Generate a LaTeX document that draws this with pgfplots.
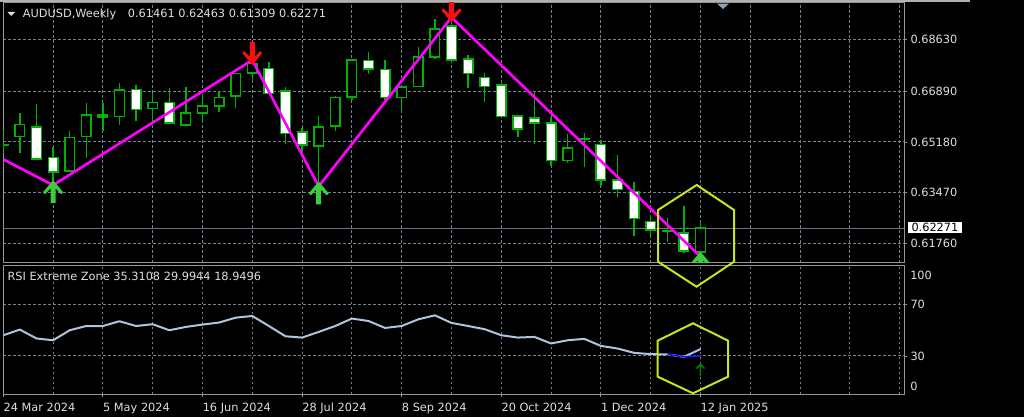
\documentclass[border=0pt]{standalone}
\usepackage{pgfplots}
\pgfplotsset{compat=1.18}
\usepackage{pgfplotstable}
\usepackage{fontspec}
\setmainfont{DejaVu Sans}

\definecolor{framecol}{RGB}{150,150,150}
\definecolor{gridcol}{RGB}{112,130,148}
\definecolor{candlegreen}{RGB}{0,178,0}
\definecolor{zzmagenta}{RGB}{255,0,255}
\definecolor{upgreen}{RGB}{60,205,60}
\definecolor{dnred}{RGB}{250,15,15}
\definecolor{rsicol}{RGB}{176,196,222}
\definecolor{rsiblue}{RGB}{20,20,255}
\definecolor{hexcol}{RGB}{200,228,30}
\definecolor{txtcol}{RGB}{222,222,222}
\definecolor{sigdark}{RGB}{0,128,0}
\definecolor{shiftcol}{RGB}{140,160,180}
\definecolor{pricecol}{RGB}{100,115,130}

% thick zigzag arrows, tip slightly inside the extreme
\pgfdeclareplotmark{zzup}{%
  \pgfpathmoveto{\pgfqpoint{0pt}{3.75pt}}%
  \pgfpathlineto{\pgfqpoint{7.5pt}{-5.25pt}}%
  \pgfpathlineto{\pgfqpoint{6pt}{-6.75pt}}%
  \pgfpathlineto{\pgfqpoint{1.9pt}{-2.55pt}}%
  \pgfpathlineto{\pgfqpoint{1.9pt}{-13.5pt}}%
  \pgfpathlineto{\pgfqpoint{-1.9pt}{-13.5pt}}%
  \pgfpathlineto{\pgfqpoint{-1.9pt}{-2.55pt}}%
  \pgfpathlineto{\pgfqpoint{-6pt}{-6.75pt}}%
  \pgfpathlineto{\pgfqpoint{-7.5pt}{-5.25pt}}%
  \pgfpathclose
  \pgfusepathqfill}
\pgfdeclareplotmark{zzdown}{%
  \pgfpathmoveto{\pgfqpoint{0pt}{-3.75pt}}%
  \pgfpathlineto{\pgfqpoint{7.5pt}{5.25pt}}%
  \pgfpathlineto{\pgfqpoint{6pt}{6.75pt}}%
  \pgfpathlineto{\pgfqpoint{1.9pt}{2.55pt}}%
  \pgfpathlineto{\pgfqpoint{1.9pt}{13.5pt}}%
  \pgfpathlineto{\pgfqpoint{-1.9pt}{13.5pt}}%
  \pgfpathlineto{\pgfqpoint{-1.9pt}{2.55pt}}%
  \pgfpathlineto{\pgfqpoint{-6pt}{6.75pt}}%
  \pgfpathlineto{\pgfqpoint{-7.5pt}{5.25pt}}%
  \pgfpathclose
  \pgfusepathqfill}
% thin signal arrow of the oscillator
\pgfdeclareplotmark{sigup}{%
  \pgfpathmoveto{\pgfqpoint{0pt}{-4.5pt}}%
  \pgfpathlineto{\pgfqpoint{0pt}{4.5pt}}%
  \pgfpathmoveto{\pgfqpoint{-3pt}{1.2pt}}%
  \pgfpathlineto{\pgfqpoint{0pt}{4.5pt}}%
  \pgfpathlineto{\pgfqpoint{3pt}{1.2pt}}%
  \pgfusepathqstroke}

% weekly AUDUSD bars: index, open, high, low, close
\pgfplotstableread{
i o h l c
0 0.6506 0.6558 0.6481 0.6508
1 0.6536 0.6617 0.6480 0.6577
2 0.6569 0.6645 0.6457 0.6460
3 0.6466 0.6500 0.6372 0.6417
4 0.6420 0.6555 0.6418 0.6532
5 0.6536 0.6648 0.6463 0.6609
6 0.6609 0.6648 0.6556 0.6602
7 0.6603 0.6716 0.6575 0.6693
8 0.6695 0.6710 0.6589 0.6628
9 0.6630 0.6682 0.6586 0.6650
10 0.6650 0.6699 0.6580 0.6581
11 0.6575 0.6704 0.6574 0.6615
12 0.6615 0.6680 0.6581 0.6639
13 0.6639 0.6691 0.6620 0.6668
14 0.6673 0.6750 0.6631 0.6749
15 0.6750 0.6794 0.6722 0.6783
16 0.6766 0.6787 0.6681 0.6682
17 0.6690 0.6704 0.6511 0.6547
18 0.6552 0.6566 0.6480 0.6508
19 0.6504 0.6605 0.6368 0.6569
20 0.6572 0.6673 0.6555 0.6668
21 0.6670 0.6798 0.6659 0.6794
22 0.6792 0.6822 0.6747 0.6764
23 0.6763 0.6794 0.6659 0.6667
24 0.6667 0.6704 0.6622 0.6703
25 0.6704 0.6839 0.6702 0.6805
26 0.6805 0.6933 0.6797 0.6898
27 0.6909 0.6938 0.6783 0.6794
28 0.6797 0.6811 0.6699 0.6749
29 0.6735 0.6749 0.6654 0.6704
30 0.6710 0.6721 0.6602 0.6603
31 0.6605 0.6609 0.6536 0.6561
32 0.6598 0.6691 0.6511 0.6581
33 0.6581 0.6603 0.6437 0.6455
34 0.6455 0.6544 0.6446 0.6498
35 0.6526 0.6549 0.6432 0.6528
36 0.6510 0.6524 0.6370 0.6390
37 0.6390 0.6474 0.6333 0.6358
38 0.6350 0.6384 0.6201 0.6260
39 0.6249 0.6271 0.6198 0.6221
40 0.6217 0.6260 0.6179 0.6219
41 0.6210 0.6302 0.6142 0.6150
42 0.61461 0.62463 0.61309 0.62271
}\candles

% RSI Extreme Zone, main line
\pgfplotstableread{
i v
0 46.1
1 50.5
2 43.6
3 42.2
4 50.0
5 53.3
6 53.3
7 57.0
8 53.3
9 54.7
10 50.0
11 52.6
12 54.4
13 56.0
14 59.8
15 61.1
16 53.3
17 45.3
18 44.3
19 48.7
20 53.3
21 59.1
22 57.2
23 51.8
24 53.3
25 58.5
26 61.6
27 55.7
28 53.3
29 50.8
30 46.1
31 44.3
32 44.8
33 39.7
34 42.2
35 43.3
36 37.8
37 35.8
38 32.4
39 31.4
40 31.2
41 29.3
42 35.3108
}\rsitab

\pgfplotsset{
  mtchart/.style={
    scale only axis, anchor=south west,
    width=675.75pt, xmin=0, xmax=54.28,
    axis line style={draw=framecol, line width=0.75pt},
    tick style={draw=framecol, line width=0.6pt},
    tick align=outside, major tick length=2.25pt, minor tick length=0pt,
    major grid style={draw=gridcol, line width=0.7pt, dash pattern=on 2pt off 1.75pt},
    minor grid style={draw=gridcol, line width=0.7pt, dash pattern=on 2pt off 1.75pt},
    tick label style={font=\fontsize{8.5}{10}\selectfont, text=txtcol},
    ytick pos=right, yticklabel pos=right,
    yticklabel style={anchor=west, inner sep=0pt, xshift=2.2pt},
  },
  candle wick/.style={draw=candlegreen, line width=1.1pt},
  candle body/.style={draw=candlegreen, line width=1.1pt, line join=miter},
}

\begin{document}
\begin{tikzpicture}
\useasboundingbox (0,0) rectangle (768pt,312.75pt);
\fill[black] (0,0) rectangle (768pt,312.75pt);

% price panel
\begin{axis}[mtchart,
  at={(2.475pt,115.5pt)}, height=195pt,
  ymin=0.61096, ymax=0.69865,
  xtick={0,3,...,54}, xticklabel=\empty, xtick style={draw=none},
  ytick={0.6176,0.6347,0.6518,0.6689,0.6863},
  yticklabels={0.61760,0.63470,0.65180,0.66890,0.68630},
  xmajorgrids, ymajorgrids,
  clip marker paths=true,
]
\addplot[draw=pricecol, line width=0.75pt] coordinates {(0,0.62271) (54.28,0.62271)};

\pgfplotsforeachungrouped \k in {0,...,42}{%
  \pgfplotstablegetelem{\k}{o}\of\candles \let\vo\pgfplotsretval
  \pgfplotstablegetelem{\k}{h}\of\candles \let\vh\pgfplotsretval
  \pgfplotstablegetelem{\k}{l}\of\candles \let\vl\pgfplotsretval
  \pgfplotstablegetelem{\k}{c}\of\candles \let\vc\pgfplotsretval
  \pgfmathsetmacro\xa{\k-0.29}%
  \pgfmathsetmacro\xb{\k+0.29}%
  \ifdim\vc pt<\vo pt \def\bodyfill{white}\else\def\bodyfill{black}\fi
  \edef\candle{%
    \noexpand\addplot[candle wick] coordinates {(\k,\vl) (\k,\vh)};
    \noexpand\addplot[candle body, fill=\bodyfill] coordinates {(\xa,\vo) (\xb,\vo) (\xb,\vc) (\xa,\vc)} --cycle;
  }\candle
}

% zigzag through the swing extremes
\addplot[draw=zzmagenta, line width=2pt, line join=round] coordinates {
  (0,0.6459) (3,0.6372) (15,0.6794) (19,0.6368) (27,0.6938) (42,0.61309)};
\addplot[only marks, mark=zzdown, mark options={fill=dnred, draw=none}]
  coordinates {(15,0.6794) (27,0.6938)};
\addplot[only marks, mark=zzup, mark options={fill=upgreen, draw=none}]
  coordinates {(3,0.6372) (19,0.6368) (42,0.61309)};
\end{axis}

% oscillator panel
\begin{axis}[mtchart,
  at={(2.475pt,16.875pt)}, height=96.375pt,
  ymin=0, ymax=100,
  xtick={0,6,...,42},
  xticklabels={24 Mar 2024,5 May 2024,16 Jun 2024,28 Jul 2024,8 Sep 2024,20 Oct 2024,1 Dec 2024,12 Jan 2025},
  minor xtick={3,9,15,21,27,33,39,45,48,51,54},
  xtick pos=left,
  xticklabel style={anchor=north west, inner sep=0pt, text height=6.3pt, text depth=1.6pt, yshift=-3.8pt},
  ytick={30,70}, yticklabels={30,70},
  xmajorgrids, xminorgrids, ymajorgrids,
  clip marker paths=true,
]
\addplot[draw=rsicol, line width=1.5pt, line join=round] table[x=i, y=v] {\rsitab};
\addplot[draw=rsiblue, line width=1.3pt] coordinates {(40,31.2) (41,29.3) (42,29.9944)};
\addplot[only marks, mark=sigup, mark options={draw=sigdark, line width=1.1pt}]
  coordinates {(42,18.9496)};
\end{axis}

% window decoration, captions and highlight shapes (pixel grid)
\begin{scope}[x=0.75pt, y=-0.75pt, shift={(0pt,312.75pt)}]
  \fill[gray!60] (0,0) rectangle (970,2.4);
  \fill[shiftcol] (717,3.6) -- (729,3.6) -- (723,9) -- cycle;
  \fill[txtcol] (7.5,12) -- (15,12) -- (11.25,16) -- cycle;
  \node[anchor=west, inner sep=0pt, text=txtcol, font=\fontsize{8.5}{10}\selectfont]
    at (22.5,14) {AUDUSD,Weekly\hspace{6pt} 0.61461 0.62463 0.61309 0.62271};
  \node[anchor=west, inner sep=0pt, text=txtcol, font=\fontsize{8.5}{10}\selectfont]
    at (7.3,276) {RSI Extreme Zone 35.3108 29.9944 18.9496};
  \node[anchor=west, fill=white, text=black, inner sep=0pt, minimum height=8.7pt,
    minimum width=40pt, font=\fontsize{8.5}{10}\selectfont] at (908,227.5) {0.62271};
  \node[anchor=west, inner sep=0pt, text=txtcol, font=\fontsize{8.5}{10}\selectfont]
    at (910,275) {100};
  \node[anchor=west, inner sep=0pt, text=txtcol, font=\fontsize{8.5}{10}\selectfont]
    at (910,386) {0};
  \draw[hexcol, line width=1.5pt, line join=miter]
    (696.7,185) -- (734,210) -- (734,261.7) -- (696.5,286.7) -- (658,261.7) -- (658,210) -- cycle;
  \draw[hexcol, line width=1.5pt, line join=miter]
    (693,323.3) -- (728,340.7) -- (728,376.7) -- (693,393.3) -- (657.7,376.7) -- (657.7,340.7) -- cycle;
\end{scope}
\end{tikzpicture}
\end{document}
